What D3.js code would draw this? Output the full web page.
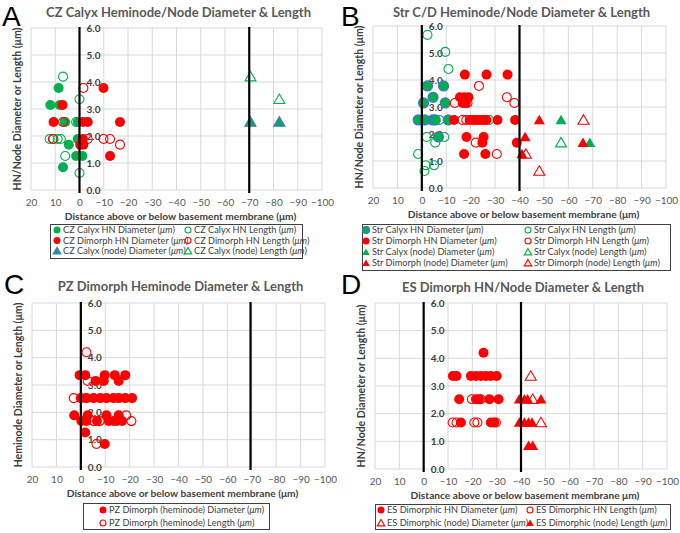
<!DOCTYPE html>
<html>
<head>
<meta charset="utf-8">
<script src="https://cdn.jsdelivr.net/npm/d3@7"></script>
<style>
  body { margin: 0; background: #fff; }
  svg text { font-family: Lato, "Open Sans", sans-serif; }
</style>
</head>
<body>
<svg id="chart" width="680" height="533"></svg>
<script>
// ---- data: [distance (µm), size (µm)] ----
var xTicks = [20, 10, 0, -10, -20, -30, -40, -50, -60, -70, -80, -90, -100];
var yTicks = [0, 1, 2, 3, 4, 5, 6];

// A: CZ
var czCalyxHnDiam = [[8.6,3.78],[12,3.15],[8.2,3.15],[5.9,2.52],[0.7,2.52],[0.7,1.89],[4.4,1.68],[1.4,1.26],[-1.2,1.26],[6.8,0.84]];
var czCalyxHnLen = [[6.8,4.2],[0,3.36],[1.4,2.52],[6.2,2.52],[12.3,1.89],[10.7,1.89],[9,1.89],[7.7,1.89],[5.9,1.26],[0,0.63]];
var czDimHnDiam = [[-9.9,3.78],[7,3.15],[10.7,2.52],[-1.4,2.52],[-3.4,2.52],[-16.7,2.52],[-1.4,1.89],[-0.3,1.68],[-1.6,1.68],[-12.6,1.26]];
var czDimHnLen = [[-1.6,3.78],[6.8,2.52],[11,1.89],[-3.4,1.89],[-9.9,1.89],[-12.6,1.89],[-16.7,1.68]];
var czCalyxNodeDiam = [[-70.5,2.52],[-82.4,2.52]];
var czCalyxNodeLen = [[-70.5,4.2],[-82.4,3.36]];

// B: Str C/D
var strCalyxHnDiam = [[-2.3,3.78],[-8.9,3.78],[-4.6,3.36],[-0.7,3.15],[-9.6,3.15],[1.5,2.52],[-1.2,2.52],[-4.4,2.52],[-5.5,2.52],[-10.8,2.52],[-6.8,1.89]];
var strCalyxHnLen = [[-2.3,5.67],[-9.6,5.04],[-10.9,4.41],[-7.2,2.52],[-27.6,2.52],[-2,1.89],[-9.2,1.89],[-5.5,1.68],[1.5,1.26],[-1.6,0.84],[-5,0.84],[-1.1,0.63]];
var strDimHnDiam = [[-17.6,4.2],[-26.5,4.2],[-35.1,4.2],[-15.6,3.36],[-17.4,3.36],[-19.1,3.36],[-16.7,3.15],[-18,3.15],[-13.2,2.52],[-19.6,2.52],[-20.7,2.52],[-21.8,2.52],[-23,2.52],[-24.2,2.52],[-25.4,2.52],[-26.5,2.52],[-31,2.52],[-38.2,2.52],[-18.3,1.89],[-25.3,1.89],[-24.8,1.68],[-38.9,1.68],[-17.3,1.26],[-26,1.26]];
var strDimHnLen = [[-23.4,3.78],[-34.8,3.36],[-13.5,3.15],[-18.7,3.15],[-37.9,3.15],[-16.6,2.52],[-18.2,2.52],[-22.1,1.68],[-30.7,1.26]];
var strCalyxNodeDiam = [[-57,2.52],[-68.8,1.68]];
var strCalyxNodeLen = [[-57,1.68]];
var strDimNodeDiam = [[-48.1,2.52],[-42.3,1.89],[-41,1.26],[-66,1.68]];
var strDimNodeLen = [[-66.2,2.52],[-42.6,1.26],[-48.1,0.63]];

// C: PZ
var pzDimHnDiam = [[0.5,3.36],[-1.8,3.36],[-9.8,3.36],[-13.9,3.36],[-18.2,3.36],[-6,3.15],[-9.4,3.15],[-15.5,3.15],[0,2.52],[-2.3,2.52],[-5.2,2.52],[-8,2.52],[-10.5,2.52],[-13.4,2.52],[-15.5,2.52],[-18.2,2.52],[-21,2.52],[2.7,1.89],[-2.8,1.89],[-10.5,1.89],[-15.5,1.89],[-0.2,1.68],[-2.3,1.68],[-6.6,1.68],[-11.4,1.68],[-13.4,1.68],[-14.8,1.68],[-16.9,1.68],[-1.8,1.26],[-9.8,0.84]];
var pzDimHnLen = [[-2.3,4.2],[-2.8,3.15],[2.9,2.52],[-18.6,1.89],[-5.3,1.68],[-7.7,1.68],[-20.7,1.68],[-6.4,0.84]];

// D: ES
var esDimHnDiam = [[-24.6,4.2],[-12,3.36],[-13.5,3.36],[-19.4,3.36],[-21.5,3.36],[-23.5,3.36],[-25.6,3.36],[-27.5,3.36],[-30,3.36],[-14.6,2.52],[-21.5,2.52],[-22.8,2.52],[-27,2.52],[-30.8,2.52],[-15.3,1.68],[-27.6,1.68],[-29,1.68]];
var esDimHnLen = [[-19.8,2.52],[-23.5,2.52],[-11.9,1.68],[-13.5,1.68],[-20.8,1.68],[-22.1,1.68],[-29.7,1.68]];
var esDimNodeDiam = [[-44,3.36],[-44.8,2.52],[-48.2,1.68]];
var esDimNodeLen = [[-39.3,2.52],[-41.4,2.52],[-42.7,2.52],[-48.2,2.52],[-39.3,1.68],[-41.4,1.68],[-43.1,1.68],[-44.5,1.68],[-43.1,0.84],[-44.8,0.84]];

var GREEN = "#00B050", RED = "#FF0000", BLUE = "#4472C4";

var panels = [
  { letter: "A", lx: 2, ly: 25.5, titleY: 17, title: "CZ Calyx Heminode/Node Diameter & Length",
    ytitle: "HN/Node Diameter or Length (\u03bcm)", xtitle: "Distance above or below basement membrane (\u03bcm)",
    box: [31, 322, 28, 190], lines: [0, -70],
    legend: { x: 50, y: 224, w: 252, h: 34, cols: [57, 188], rows: [230, 240.5, 251] },
    series: [
      { name: "CZ Calyx HN Diameter", data: czCalyxHnDiam, shape: "circle", fill: GREEN, stroke: GREEN },
      { name: "CZ Calyx HN Length", data: czCalyxHnLen, shape: "circle", fill: "none", stroke: GREEN },
      { name: "CZ Dimorph HN Diameter", data: czDimHnDiam, shape: "circle", fill: RED, stroke: RED },
      { name: "CZ Dimorph HN Length", data: czDimHnLen, shape: "circle", fill: "none", stroke: RED },
      { name: "CZ Calyx (node) Diameter", data: czCalyxNodeDiam, shape: "tri", fill: "#13A06A", stroke: "#3B7CC0" },
      { name: "CZ Calyx (node) Length", data: czCalyxNodeLen, shape: "tri", fill: "none", stroke: GREEN }
    ] },
  { letter: "B", lx: 341, ly: 25.5, titleY: 17, title: "Str C/D Heminode/Node Diameter & Length",
    ytitle: "HN/Node Diameter or Length (\u03bcm)", xtitle: "Distance above or below basement membrane (\u03bcm)",
    box: [373, 666, 26, 188], lines: [0, -40],
    legend: { x: 362, y: 224, w: 308, h: 46, cols: [366, 528], rows: [230, 241, 252, 263] },
    series: [
      { name: "Str Calyx HN Diameter", data: strCalyxHnDiam, shape: "circle", fill: GREEN, stroke: BLUE },
      { name: "Str Calyx HN Length", data: strCalyxHnLen, shape: "circle", fill: "none", stroke: GREEN },
      { name: "Str Dimorph HN Diameter", data: strDimHnDiam, shape: "circle", fill: RED, stroke: RED },
      { name: "Str Dimorph HN Length", data: strDimHnLen, shape: "circle", fill: "none", stroke: RED },
      { name: "Str Calyx (node) Diameter", data: strCalyxNodeDiam, shape: "tri", fill: GREEN, stroke: GREEN },
      { name: "Str Calyx (node) Length", data: strCalyxNodeLen, shape: "tri", fill: "none", stroke: GREEN },
      { name: "Str Dimorph (node) Diameter", data: strDimNodeDiam, shape: "tri", fill: RED, stroke: RED },
      { name: "Str Dimorph (node) Length", data: strDimNodeLen, shape: "tri", fill: "none", stroke: RED }
    ] },
  { letter: "C", lx: 4, ly: 294, titleY: 291, title: "PZ Dimorph Heminode Diameter & Length",
    ytitle: "Heminode Diameter or Length (\u03bcm)", xtitle: "Distance above or below basement membrane (\u03bcm)",
    box: [32, 325, 303, 467], lines: [0, -69.5],
    legend: { x: 83, y: 503, w: 186, h: 26, cols: [103], rows: [510, 523] },
    series: [
      { name: "PZ Dimorph (heminode) Diameter", data: pzDimHnDiam, shape: "circle", fill: RED, stroke: RED },
      { name: "PZ Dimorph (heminode) Length", data: pzDimHnLen, shape: "circle", fill: "none", stroke: RED }
    ] },
  { letter: "D", lx: 341, ly: 294, titleY: 292, title: "ES Dimorph HN/Node Diameter & Length",
    ytitle: "HN/Node Diameter or Length (\u03bcm)", xtitle: "Distance above or below basement membrane \u03bcm)",
    box: [375, 667, 303, 469], lines: [0, -40],
    legend: { x: 375, y: 504, w: 295, h: 25, cols: [381, 530], rows: [510, 523] },
    series: [
      { name: "ES Dimorphic HN Diameter", data: esDimHnDiam, shape: "circle", fill: RED, stroke: RED },
      { name: "ES Dimorphic HN Length", data: esDimHnLen, shape: "circle", fill: "none", stroke: RED },
      { name: "ES Dimorphic (node) Diameter", data: esDimNodeDiam, shape: "tri", fill: "none", stroke: RED },
      { name: "ES Dimorphic (node) Length", data: esDimNodeLen, shape: "tri", fill: RED, stroke: RED }
    ] }
];

var svg = d3.select("#chart");

// r = circle radius, side = triangle side length
function drawMarker(sel, s, r, side) {
  var open = s.fill === "none";
  var sw = open ? 1.1 : (s.stroke !== s.fill ? 1.2 : 0);
  if (s.shape === "circle") {
    sel.append("circle").attr("r", open ? r - 0.5 : r)
      .attr("fill", open ? "none" : s.fill)
      .attr("stroke", s.stroke).attr("stroke-width", sw);
  } else {
    var tri = d3.symbol().type(d3.symbolTriangle).size(side * side * Math.sqrt(3) / 4);
    sel.append("path").attr("d", tri())
      .attr("transform", "translate(0," + (side * 0.1) + ")")
      .attr("fill", s.fill).attr("stroke", s.stroke).attr("stroke-width", sw);
  }
}

panels.forEach(function (p) {
  var L = p.box[0], R = p.box[1], T = p.box[2], B = p.box[3];
  var x = d3.scaleLinear().domain([20, -100]).range([L, R]);
  var y = d3.scaleLinear().domain([0, 6]).range([B, T]);
  var g = svg.append("g");

  // gridlines
  g.append("g").selectAll("line").data(xTicks).enter().append("line")
    .attr("x1", function (d) { return x(d); }).attr("x2", function (d) { return x(d); })
    .attr("y1", T).attr("y2", B).attr("stroke", "#D9D9D9").attr("stroke-width", 1);
  g.append("g").selectAll("line").data(yTicks).enter().append("line")
    .attr("x1", L).attr("x2", R)
    .attr("y1", function (d) { return y(d); }).attr("y2", function (d) { return y(d); })
    .attr("stroke", "#D9D9D9").attr("stroke-width", 1);

  // x axis labels
  var xa = g.append("g").attr("transform", "translate(0," + B + ")")
    .call(d3.axisBottom(x).tickValues(xTicks).tickSize(0).tickPadding(9));
  xa.select(".domain").remove();
  xa.selectAll("text").attr("font-size", "10px").attr("fill", "#595959")
    .style("font-family", "Lato, sans-serif");

  // y axis labels sit beside the zero line
  var ya = g.append("g").attr("transform", "translate(" + (x(0) + 21) + ",0)")
    .call(d3.axisLeft(y).tickValues(yTicks).tickSize(0).tickPadding(0).tickFormat(d3.format(".1f")));
  ya.select(".domain").remove();
  ya.selectAll("text").attr("font-size", "10px").attr("font-weight", "bold").attr("fill", "#404040")
    .style("font-family", "Lato, sans-serif");

  // series
  p.series.forEach(function (s) {
    g.append("g").selectAll("g").data(s.data).enter().append("g")
      .attr("transform", function (d) { return "translate(" + x(d[0]) + "," + y(d[1]) + ")"; })
      .each(function () { drawMarker(d3.select(this), s, 5, 11); });
  });

  // black reference lines
  g.append("g").selectAll("line").data(p.lines).enter().append("line")
    .attr("x1", function (d) { return x(d); }).attr("x2", function (d) { return x(d); })
    .attr("y1", T - 1).attr("y2", B + 3).attr("stroke", "#000").attr("stroke-width", 2.2);

  // titles
  g.append("text").attr("x", (L + R) / 2 + 2).attr("y", p.titleY).attr("text-anchor", "middle")
    .attr("font-size", "13px").attr("font-weight", "bold").attr("fill", "#595959").text(p.title);
  g.append("text").attr("x", p.lx).attr("y", p.ly).attr("font-size", "28px")
    .style("font-family", "'Liberation Sans', Arial, sans-serif").attr("fill", "#000").text(p.letter);
  g.append("text").attr("transform", "translate(" + (L - 10.5) + "," + ((T + B) / 2) + ") rotate(-90)")
    .attr("text-anchor", "middle").attr("font-size", "10.5px").attr("font-weight", "bold")
    .attr("fill", "#404040").text(p.ytitle);
  g.append("text").attr("x", (L + R) / 2 + 4).attr("y", B + 30).attr("text-anchor", "middle")
    .attr("font-size", "10.2px").attr("font-weight", "bold").attr("fill", "#404040").text(p.xtitle);

  // legend
  var lg = p.legend;
  g.append("rect").attr("x", lg.x + 0.5).attr("y", lg.y + 0.5).attr("width", lg.w).attr("height", lg.h)
    .attr("fill", "#fff").attr("stroke", "#404040").attr("stroke-width", 1);
  p.series.forEach(function (s, i) {
    var col = lg.cols.length > 1 ? i % 2 : 0;
    var row = lg.cols.length > 1 ? Math.floor(i / 2) : i;
    var item = g.append("g").attr("transform", "translate(" + lg.cols[col] + "," + lg.rows[row] + ")");
    drawMarker(item, s, 3.5, 7.5);
    var t = item.append("text").attr("x", 6).attr("y", 3.2).attr("font-size", "9.2px").attr("fill", "#404040");
    t.append("tspan").text(s.name + " (");
    t.append("tspan").attr("font-style", "italic").text("\u03bcm");
    t.append("tspan").text(")");
  });
});
</script>
</body>
</html>
